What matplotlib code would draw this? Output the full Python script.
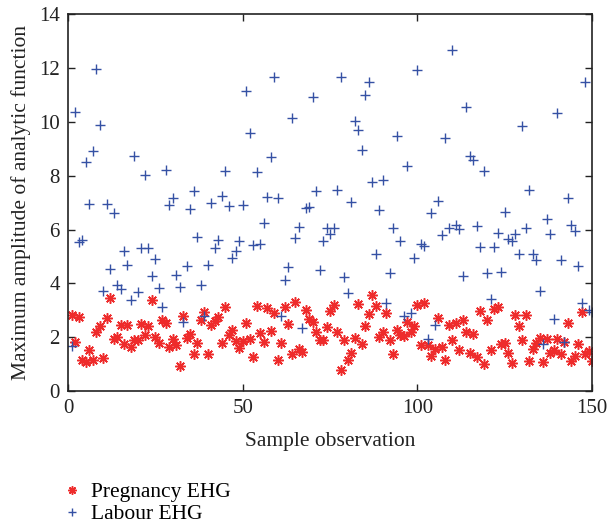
import numpy as np
import matplotlib
matplotlib.use("Agg")
import matplotlib.pyplot as plt

# sample index 1..150
samples = np.arange(1, 151)

pregnancy = [
    2.83, 1.83, 2.74, 1.17, 1.07, 1.52, 1.17, 2.21, 2.43, 1.22,
    2.70, 3.46, 1.94, 2.00, 2.46, 1.75, 2.46, 1.63, 1.88, 1.88,
    2.49, 2.09, 2.40, 3.37, 2.02, 1.78, 2.64, 2.52, 1.63, 1.94,
    1.72, 0.93, 2.80, 1.96, 2.12, 1.36, 1.80, 2.65, 2.93, 1.36,
    2.47, 2.59, 2.74, 1.80, 3.14, 2.09, 2.27, 1.85, 1.60, 1.85,
    2.54, 1.94, 1.26, 3.16, 2.15, 1.83, 3.09, 2.22, 2.90, 1.17,
    1.80, 3.14, 2.48, 1.36, 3.31, 1.56, 1.44, 3.00, 2.68, 2.56,
    2.19, 1.90, 1.90, 2.37, 2.99, 3.20, 2.19, 0.77, 1.91, 1.17,
    1.42, 1.98, 3.23, 1.75, 2.41, 2.86, 3.58, 3.16, 2.00, 2.21,
    2.90, 1.90, 1.36, 2.25, 2.09, 2.05, 2.56, 2.19, 2.40, 3.20,
    1.72, 3.26, 1.72, 1.30, 1.57, 2.72, 1.63, 1.14, 2.46, 1.90,
    2.52, 1.53, 2.64, 2.21, 1.41, 2.12, 1.28, 2.96, 0.99, 2.64,
    1.51, 3.04, 3.11, 1.73, 1.78, 1.43, 1.04, 2.84, 2.43, 1.88,
    2.84, 1.11, 1.57, 1.78, 1.98, 1.07, 1.95, 1.41, 1.53, 1.93,
    1.36, 1.81, 2.52, 1.11, 1.32, 1.75, 2.95, 1.38, 1.48, 1.11,
]

labour = [
    1.68, 10.36, 5.52, 5.63, 8.50, 6.96, 8.91, 11.98, 9.90, 3.70,
    6.96, 4.52, 6.63, 3.95, 3.80, 5.22, 4.70, 3.37, 8.73, 3.67,
    5.33, 8.04, 5.33, 4.27, 4.90, 3.83, 3.14, 8.23, 6.93, 7.19,
    4.31, 3.86, 2.56, 4.64, 6.75, 7.43, 5.74, 3.95, 2.77, 4.70,
    7.00, 5.33, 5.63, 7.25, 8.17, 6.88, 4.96, 5.19, 5.56, 6.93,
    11.16, 9.58, 5.43, 8.14, 5.48, 6.25, 7.21, 8.69, 11.68, 7.17,
    2.77, 4.11, 4.59, 10.14, 5.67, 6.10, 2.33, 6.80, 6.84, 10.93,
    7.43, 4.49, 5.56, 6.07, 5.84, 6.04, 7.47, 11.65, 4.22, 3.63,
    7.02, 10.02, 9.69, 8.95, 11.01, 11.49, 7.77, 5.11, 6.73, 7.83,
    3.26, 4.37, 6.05, 9.47, 5.56, 2.80, 8.36, 2.89, 4.96, 11.91,
    5.48, 5.40, 1.95, 6.62, 2.47, 7.06, 5.79, 9.41, 6.04, 12.68,
    6.17, 6.03, 4.28, 10.57, 8.75, 8.60, 6.14, 5.36, 8.17, 4.37,
    3.42, 5.36, 5.89, 4.44, 6.67, 5.64, 5.58, 5.85, 5.11, 9.86,
    6.04, 7.47, 5.11, 4.86, 3.70, 1.73, 6.41, 5.83, 2.68, 10.33,
    4.86, 1.81, 7.19, 6.16, 5.95, 4.64, 3.27, 11.47, 3.01, 2.93,
]

x_ticks = [0, 50, 100, 150]
y_ticks = [0, 2, 4, 6, 8, 10, 12, 14]

plt.rcParams["font.family"] = ["Liberation Serif", "DejaVu Serif"]

fig = plt.figure(figsize=(6.08, 5.27), dpi=100)
ax = fig.add_axes([0.112, 0.258, 0.862, 0.715])

ax.plot(samples, pregnancy, linestyle="none", marker=(8, 2, 0), markersize=7.5,
        markeredgewidth=1.1, color="#ee2b2b", label="Pregnancy EHG")
ax.plot(samples, labour, linestyle="none", marker="+", markersize=7.5,
        markeredgewidth=1.0, color="#3551a4", label="Labour EHG")

ax.set_xlim(0, 150)
ax.set_ylim(0, 14)
ax.set_xticks(x_ticks)
ax.set_yticks(y_ticks)
ax.tick_params(direction="in", top=True, right=True, length=5, width=1,
               labelsize=15, colors="#222222", pad=6)
for sp in ax.spines.values():
    sp.set_linewidth(1.2)
    sp.set_color("#222222")

ax.set_xlabel("Sample observation", fontsize=15.5, color="#222222", labelpad=10)
ax.set_ylabel("Maximum amplitude of analytic function", fontsize=15.5,
              color="#222222", labelpad=6)

ax.legend(loc="upper left", bbox_to_anchor=(-0.05, -0.19), frameon=False,
          fontsize=15.5, handlelength=1.0, handletextpad=0.4,
          labelspacing=0.1, markerscale=0.8)

fig.savefig("out.png", dpi=100)
